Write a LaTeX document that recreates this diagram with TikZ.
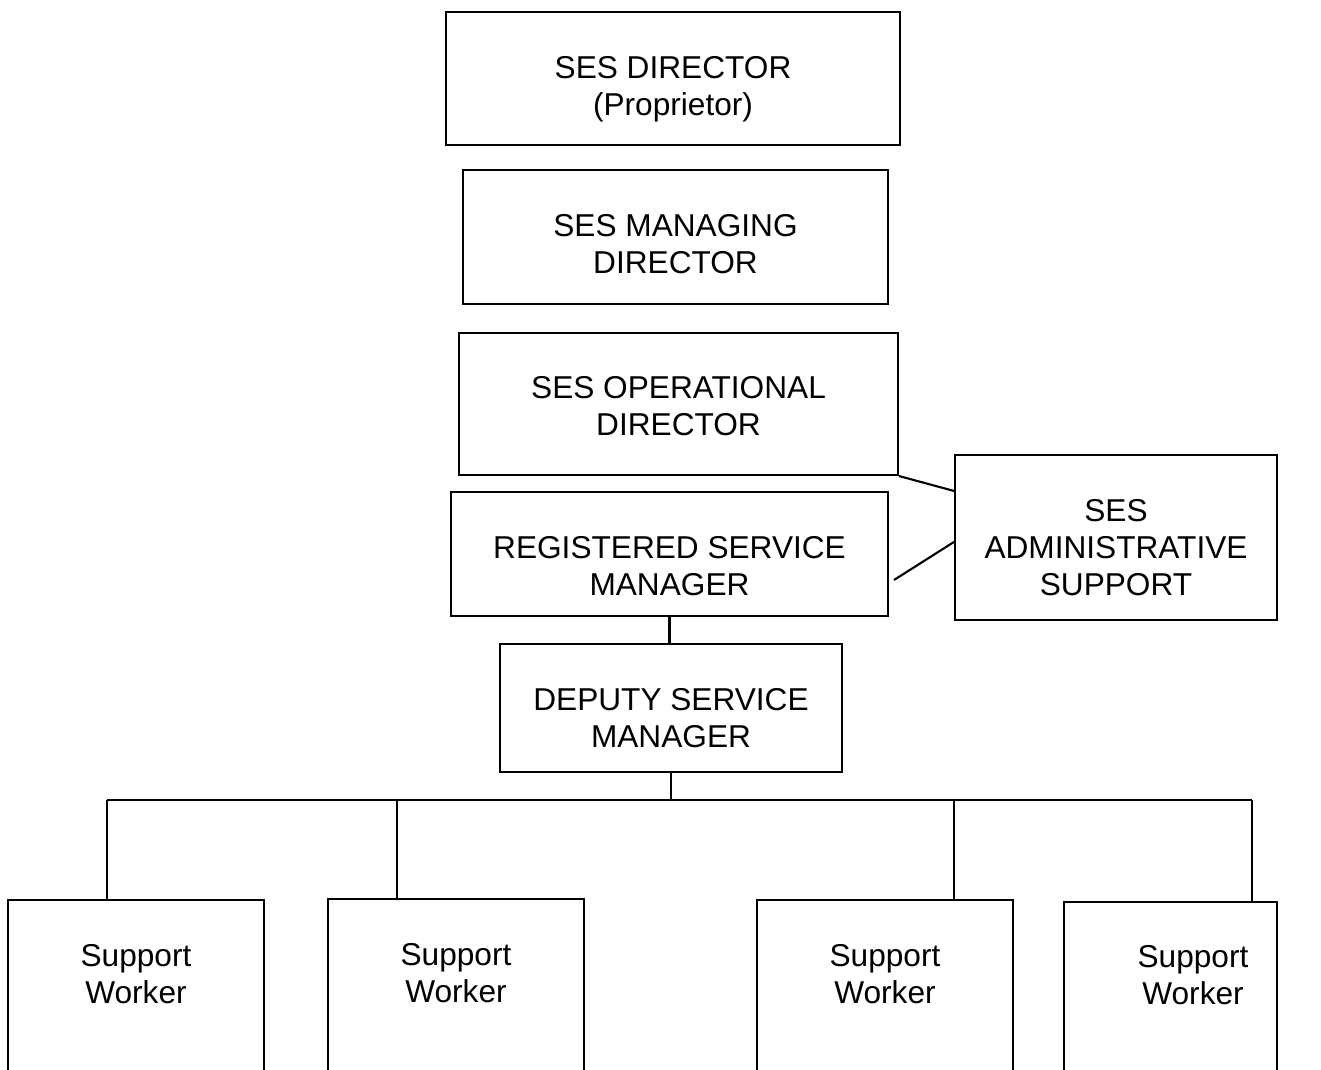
\documentclass[tikz,border=0pt]{standalone}
\usepackage{fontspec}
\setmainfont{Liberation Sans}
\usetikzlibrary{positioning}

\tikzset{
  post/.style={draw=black, line width=1.2pt, rectangle, inner sep=0pt},
  worker/.style={draw=black, line width=1.2pt, rectangle, inner sep=0pt,
    minimum width=5.12cm, minimum height=4.2cm, anchor=north},
  caption/.style={align=center, font=\fontsize{18}{21}\selectfont},
  link/.style={draw=black, line width=1.2pt}
}

\begin{document}
\begin{tikzpicture}[x=0.02cm, y=-0.02cm]
\clip (0,0) rectangle (1321,1070);
\fill[white] (0,0) rectangle (1321,1070);
% Directors
\node [post, minimum width=9.08cm, minimum height=2.66cm] (dir) at (673,78.5) {};
\node [post, minimum width=8.5cm, minimum height=2.68cm] (mgd) at (675.5,237) {};
\node [post, minimum width=8.78cm, minimum height=2.84cm] (ops) at (678.5,404) {};
\node [caption] (tdir) at (673,89.5) {SES DIRECTOR\\(Proprietor)};
\node [caption] (tmgd) at (675.5,244) {SES MANAGING\\DIRECTOR};
\node [caption] (tops) at (678.5,406) {SES OPERATIONAL\\DIRECTOR};
% Managers
\node [post, minimum width=8.74cm, minimum height=2.48cm] (reg) at (669.5,554) {};
\node [post, minimum width=6.44cm, minimum height=3.3cm] (adm) at (1116,537.5) {};
\node [post, minimum width=6.84cm, minimum height=2.56cm] (dep) at (671,708) {};
\node [caption] (treg) at (669.5,566) {REGISTERED SERVICE\\MANAGER};
\node [caption] (tadm) at (1116,547.5) {SES\\ADMINISTRATIVE\\SUPPORT};
\node [caption] (tdep) at (671,718) {DEPUTY SERVICE\\MANAGER};
% Support workers
\node [worker] (w1) at (136,899) {};
\node [worker] (w2) at (456,898) {};
\node [worker] (w3) at (885,899) {};
\node [worker, minimum width=4.26cm] (w4) at (1170.5,901) {};
\node [caption] (t1) at (136,974) {Support\\Worker};
\node [caption] (t2) at (456,973) {Support\\Worker};
\node [caption] (t3) at (885,974) {Support\\Worker};
\node [caption] (t4) at (1193,975) {Support\\Worker};
% Admin links
\draw [link] (ops.south east) -- ([yshift=-0.74cm]adm.north west);
\draw [link] ([xshift=0.1cm, yshift=-0.52cm]reg.east) -- ([yshift=-1.76cm]adm.north west);
% Tree
\coordinate (d1) at (107,800);
\coordinate (d2) at (397,800);
\coordinate (d3) at (954,800);
\coordinate (d4) at (1252,800);
\draw [link] (reg.south) -- (reg.south |- dep.north);
\draw [link] (dep.south) -- (dep.south |- d1);
\draw [link] (d1) -- (d4);
\draw [link] (d1) -- (d1 |- w1.north);
\draw [link] (d2) -- (d2 |- w2.north);
\draw [link] (d3) -- (d3 |- w3.north);
\draw [link] (d4) -- (d4 |- w4.north);
\end{tikzpicture}
\end{document}
